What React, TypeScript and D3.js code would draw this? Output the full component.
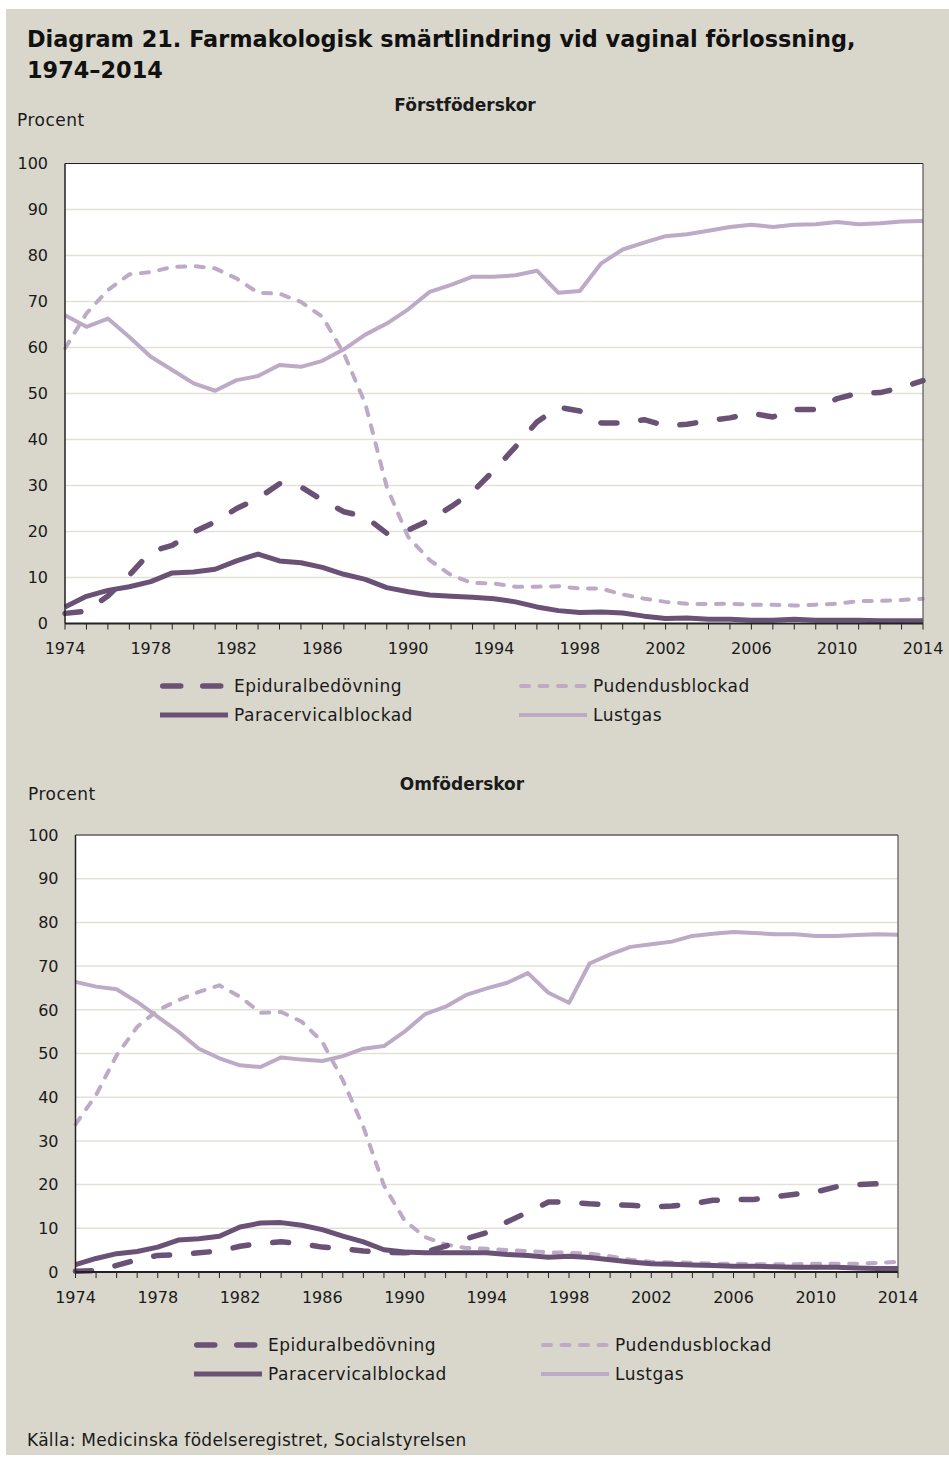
import React from 'react';
import * as d3 from 'd3';

const years = d3.range(1974, 2015);

// Förstföderskor
const firstEpidural = [2.2, 2.7, 6.0, 10.5, 15.6, 17.0, 19.9, 22.1, 25.0, 27.2, 30.4, 29.7, 26.8, 24.3, 23.2, 19.6, 20.3, 22.5, 25.4, 28.6, 33.3, 38.4, 43.8, 47.0, 46.2, 43.6, 43.6, 44.3, 43.0, 43.3, 44.1, 44.7, 45.7, 44.9, 46.5, 46.5, 48.9, 50.1, 50.2, 51.3, 52.8];
const firstPudendus = [59.8, 67.4, 72.5, 75.9, 76.4, 77.5, 77.7, 77.2, 75.0, 71.9, 71.7, 69.9, 66.7, 58.7, 47.8, 29.7, 18.8, 13.8, 10.5, 8.8, 8.7, 8.0, 8.0, 8.1, 7.6, 7.6, 6.3, 5.4, 4.7, 4.3, 4.2, 4.3, 4.1, 4.1, 3.9, 4.1, 4.3, 4.9, 4.9, 5.1, 5.4];
const firstParacervical = [3.6, 5.9, 7.2, 8.0, 9.1, 11.0, 11.2, 11.8, 13.6, 15.1, 13.6, 13.2, 12.2, 10.7, 9.6, 7.8, 6.9, 6.2, 5.9, 5.7, 5.4, 4.7, 3.6, 2.8, 2.4, 2.5, 2.3, 1.6, 1.1, 1.2, 0.9, 0.9, 0.7, 0.7, 0.9, 0.7, 0.7, 0.7, 0.6, 0.6, 0.6];
const firstLustgas = [67.0, 64.5, 66.3, 62.3, 58.0, 55.1, 52.2, 50.6, 52.9, 53.8, 56.2, 55.8, 57.1, 59.6, 62.8, 65.2, 68.3, 72.1, 73.6, 75.4, 75.4, 75.7, 76.7, 71.9, 72.3, 78.3, 81.3, 82.8, 84.2, 84.6, 85.4, 86.2, 86.7, 86.2, 86.7, 86.8, 87.3, 86.8, 87.0, 87.4, 87.5];

// Omföderskor
const otherEpidural = [0.2, 0.3, 1.5, 2.8, 3.8, 4.0, 4.4, 4.8, 5.9, 6.5, 6.9, 6.5, 5.7, 5.3, 4.8, 4.5, 4.4, 4.6, 5.9, 7.6, 9.0, 11.5, 13.7, 16.0, 16.0, 15.6, 15.4, 15.3, 14.9, 15.1, 15.6, 16.4, 16.6, 16.6, 17.2, 17.8, 18.3, 19.5, 20.0, 20.2, 20.6];
const otherPudendus = [33.8, 40.5, 49.6, 56.1, 59.9, 62.2, 64.1, 65.6, 63.0, 59.3, 59.5, 57.3, 52.7, 43.9, 33.2, 19.8, 11.8, 8.0, 6.3, 5.5, 5.3, 5.0, 4.8, 4.5, 4.4, 4.2, 3.6, 2.8, 2.3, 2.2, 2.1, 1.9, 1.9, 1.8, 1.8, 1.8, 1.9, 1.9, 1.9, 2.1, 2.3];
const otherParacervical = [1.7, 3.1, 4.2, 4.7, 5.7, 7.3, 7.6, 8.2, 10.3, 11.2, 11.3, 10.7, 9.7, 8.2, 6.9, 5.1, 4.6, 4.4, 4.4, 4.4, 4.4, 4.0, 3.8, 3.4, 3.6, 3.3, 2.8, 2.3, 1.9, 1.8, 1.6, 1.5, 1.3, 1.3, 1.2, 1.1, 1.1, 1.1, 0.9, 0.8, 0.8];
const otherLustgas = [66.4, 65.3, 64.7, 61.8, 58.4, 55.0, 51.1, 48.9, 47.3, 46.9, 49.1, 48.6, 48.3, 49.4, 51.1, 51.7, 55.0, 59.0, 60.7, 63.4, 64.9, 66.2, 68.4, 63.9, 61.6, 70.6, 72.7, 74.4, 75.0, 75.6, 76.9, 77.4, 77.8, 77.6, 77.3, 77.3, 76.9, 76.9, 77.1, 77.3, 77.2];

const yTicks = [0, 10, 20, 30, 40, 50, 60, 70, 80, 90, 100];
const xLabelYears = [1974, 1978, 1982, 1986, 1990, 1994, 1998, 2002, 2006, 2010, 2014];

const DARK = '#6a5276';
const LIGHT = '#bcaac6';
const BG = '#d9d7cb';
const FONT = '"DejaVu Sans", Verdana, sans-serif';

type Style = { name: string; color: string; width: number; dash?: string };
const styles: Style[] = [
  { name: 'Epiduralbedövning', color: DARK, width: 5.5, dash: '16,24' },
  { name: 'Pudendusblockad', color: LIGHT, width: 4, dash: '8,10.5' },
  { name: 'Paracervicalblockad', color: DARK, width: 5 },
  { name: 'Lustgas', color: LIGHT, width: 4 },
];

interface PanelProps {
  title: string;
  titleX: number;
  titleY: number;
  procentX: number;
  procentY: number;
  left: number;
  right: number;
  top: number;
  bottom: number;
  series: number[][]; // epidural, pudendus, paracervical, lustgas
  legendY: number;
  legendX1: number;
  legendX2: number;
}

const Panel: React.FC<PanelProps> = (p) => {
  const x = d3.scaleLinear().domain([1974, 2014]).range([p.left, p.right]);
  const y = d3.scaleLinear().domain([0, 100]).range([p.bottom, p.top]);
  const line = d3.line<number>().x((_, i) => x(years[i])).y((d) => y(d));
  // draw order: lustgas, pudendus, paracervical, epidural
  const order = [3, 1, 2, 0];
  return (
    <g>
      <text x={p.titleX} y={p.titleY} textAnchor="middle" fontSize={17} fontWeight="bold" fill="#1a1a1a">{p.title}</text>
      <text x={p.procentX} y={p.procentY} fontSize={17} letterSpacing={0.5} fill="#1a1a1a">Procent</text>
      <rect x={p.left} y={p.top} width={p.right - p.left} height={p.bottom - p.top} fill="#fff" />
      {yTicks.filter((t) => t > 0).map((t) => (
        <line key={t} x1={p.left} x2={p.right} y1={y(t)} y2={y(t)} stroke="#e3e1d7" strokeWidth={1.5} />
      ))}
      {yTicks.map((t) => (
        <text key={t} x={p.left - 17} y={y(t)} dy="0.36em" textAnchor="end" fontSize={16} fill="#1a1a1a">{t}</text>
      ))}
      {order.map((si) => {
        const s = styles[si];
        return (
          <path key={si} d={line(p.series[si]) || ''} fill="none" stroke={s.color} strokeWidth={s.width}
            strokeDasharray={s.dash} strokeLinecap={s.dash ? 'round' : 'butt'} strokeLinejoin="round" />
        );
      })}
      <line x1={p.left} x2={p.right} y1={p.top} y2={p.top} stroke="#222" strokeWidth={1.2} />
      <line x1={p.right} x2={p.right} y1={p.top} y2={p.bottom} stroke="#555" strokeWidth={1.2} />
      <line x1={p.left} x2={p.left} y1={p.top} y2={p.bottom} stroke="#222" strokeWidth={1.5} />
      <line x1={p.left} x2={p.right} y1={p.bottom} y2={p.bottom} stroke="#222" strokeWidth={1.8} />
      {years.map((yr) => (
        <line key={yr} x1={x(yr)} x2={x(yr)} y1={p.bottom} y2={p.bottom + 6} stroke="#222" strokeWidth={1} />
      ))}
      {xLabelYears.map((yr) => (
        <text key={yr} x={x(yr)} y={p.bottom + 25} dy="0.36em" textAnchor="middle" fontSize={16} fill="#1a1a1a">{yr}</text>
      ))}
      {styles.map((s, i) => {
        const col = i % 2;
        const row = Math.floor(i / 2);
        const lx = col === 0 ? p.legendX1 : p.legendX2;
        const ly = p.legendY + row * 29;
        const cap = s.dash ? s.width / 2 : 0;
        return (
          <g key={s.name}>
            <line x1={lx + cap} x2={lx + 68 - cap} y1={ly} y2={ly} stroke={s.color} strokeWidth={s.width}
              strokeDasharray={i === 0 ? '18,22' : s.dash}
              strokeLinecap={s.dash ? 'round' : 'butt'} />
            <text x={lx + 74} y={ly} dy="0.36em" fontSize={17} letterSpacing={0.5} fill="#1a1a1a">{s.name}</text>
          </g>
        );
      })}
    </g>
  );
};

export default function App() {
  return (
    <div style={{ position: 'absolute', left: 0, top: 0 }}>
      <svg width={949} height={1460} style={{ display: 'block', fontFamily: FONT }}>
        <rect x={0} y={0} width={949} height={1460} fill="#fff" />
        <rect x={6} y={9} width={943} height={1446} fill={BG} />
        <text x={27} y={47} fontSize={22.4} fontWeight="bold" fill="#111">Diagram 21. Farmakologisk smärtlindring vid vaginal förlossning,</text>
        <text x={27} y={78} fontSize={22.4} fontWeight="bold" fill="#111">1974–2014</text>
        <Panel title="Förstföderskor" titleX={465} titleY={111} procentX={17} procentY={126}
          left={65} right={923} top={163.5} bottom={623.5}
          series={[firstEpidural, firstPudendus, firstParacervical, firstLustgas]}
          legendY={686} legendX1={160} legendX2={519} />
        <Panel title="Omföderskor" titleX={462} titleY={790} procentX={28} procentY={800}
          left={75.5} right={898} top={835} bottom={1272}
          series={[otherEpidural, otherPudendus, otherParacervical, otherLustgas]}
          legendY={1345} legendX1={194} legendX2={541} />
        <text x={27} y={1446} fontSize={17} letterSpacing={0.3} fill="#1a1a1a">Källa: Medicinska födelseregistret, Socialstyrelsen</text>
      </svg>
    </div>
  );
}
